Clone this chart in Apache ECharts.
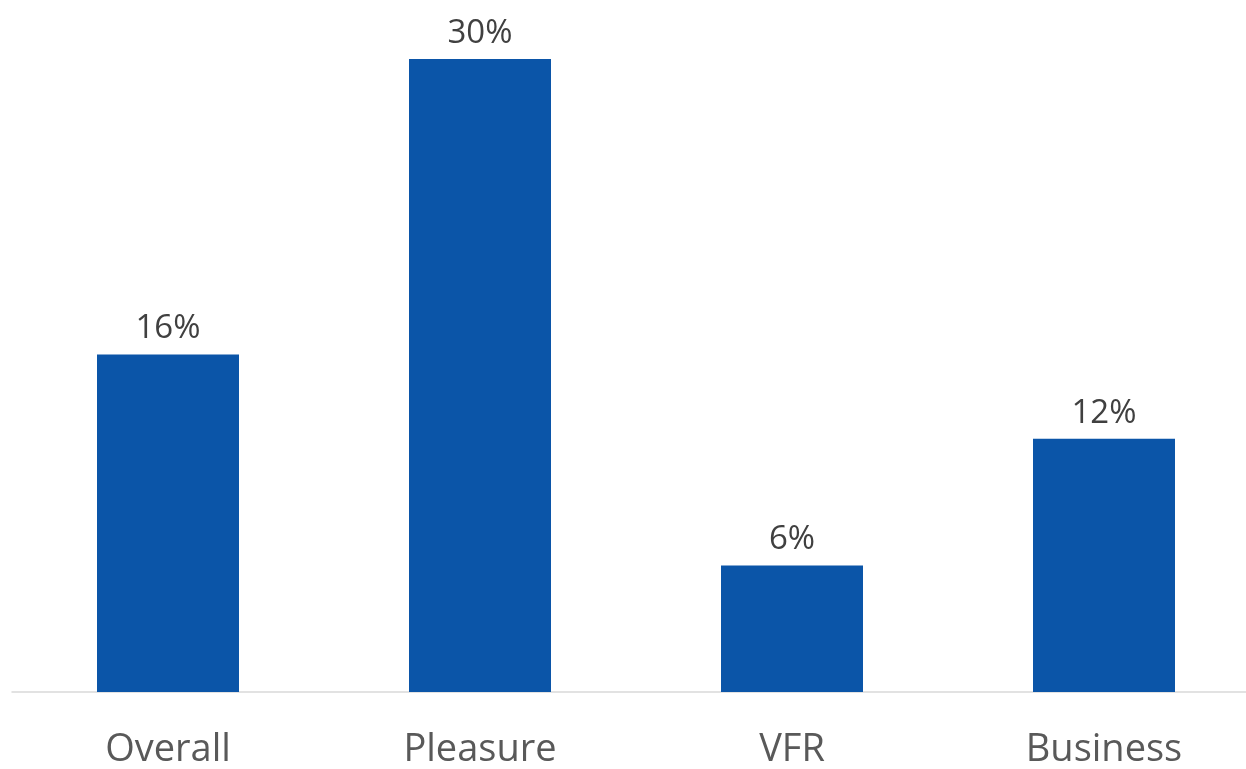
<!DOCTYPE html>
<html>
<head>
<meta charset="utf-8">
<script src="https://cdn.jsdelivr.net/npm/echarts@6/dist/echarts.min.js"></script>
<style>
  html, body { margin: 0; padding: 0; background: #ffffff; overflow: hidden; }
  #chart { width: 1260px; height: 769px; }
</style>
</head>
<body>
<div id="chart"></div>
<script>
// Share of travellers by trip purpose
const categories = ['Overall', 'Pleasure', 'VFR', 'Business'];
const shares = [16, 30, 6, 12];

const chart = echarts.init(document.getElementById('chart'), null, { renderer: 'canvas' });

chart.setOption({
  animation: false,
  backgroundColor: '#ffffff',
  grid: { left: 12, right: 0, top: 59, bottom: 70, containLabel: false },
  xAxis: {
    type: 'category',
    data: categories,
    axisLine: { show: true, lineStyle: { color: '#d9d9d9', width: 1.5 } },
    axisTick: { show: false },
    axisLabel: {
      color: '#595959',
      fontFamily: 'Open Sans',
      fontSize: 38,
      margin: 39
    }
  },
  yAxis: {
    type: 'value',
    min: 0,
    max: 30,
    show: false,
    splitLine: { show: false }
  },
  series: [{
    type: 'bar',
    data: shares,
    barWidth: 142,
    itemStyle: { color: '#0b55a8' },
    label: {
      show: true,
      position: 'top',
      distance: 9,
      color: '#404040',
      fontFamily: 'Open Sans',
      fontSize: 33,
      formatter: p => p.value + '%'
    }
  }]
});
</script>
</body>
</html>
